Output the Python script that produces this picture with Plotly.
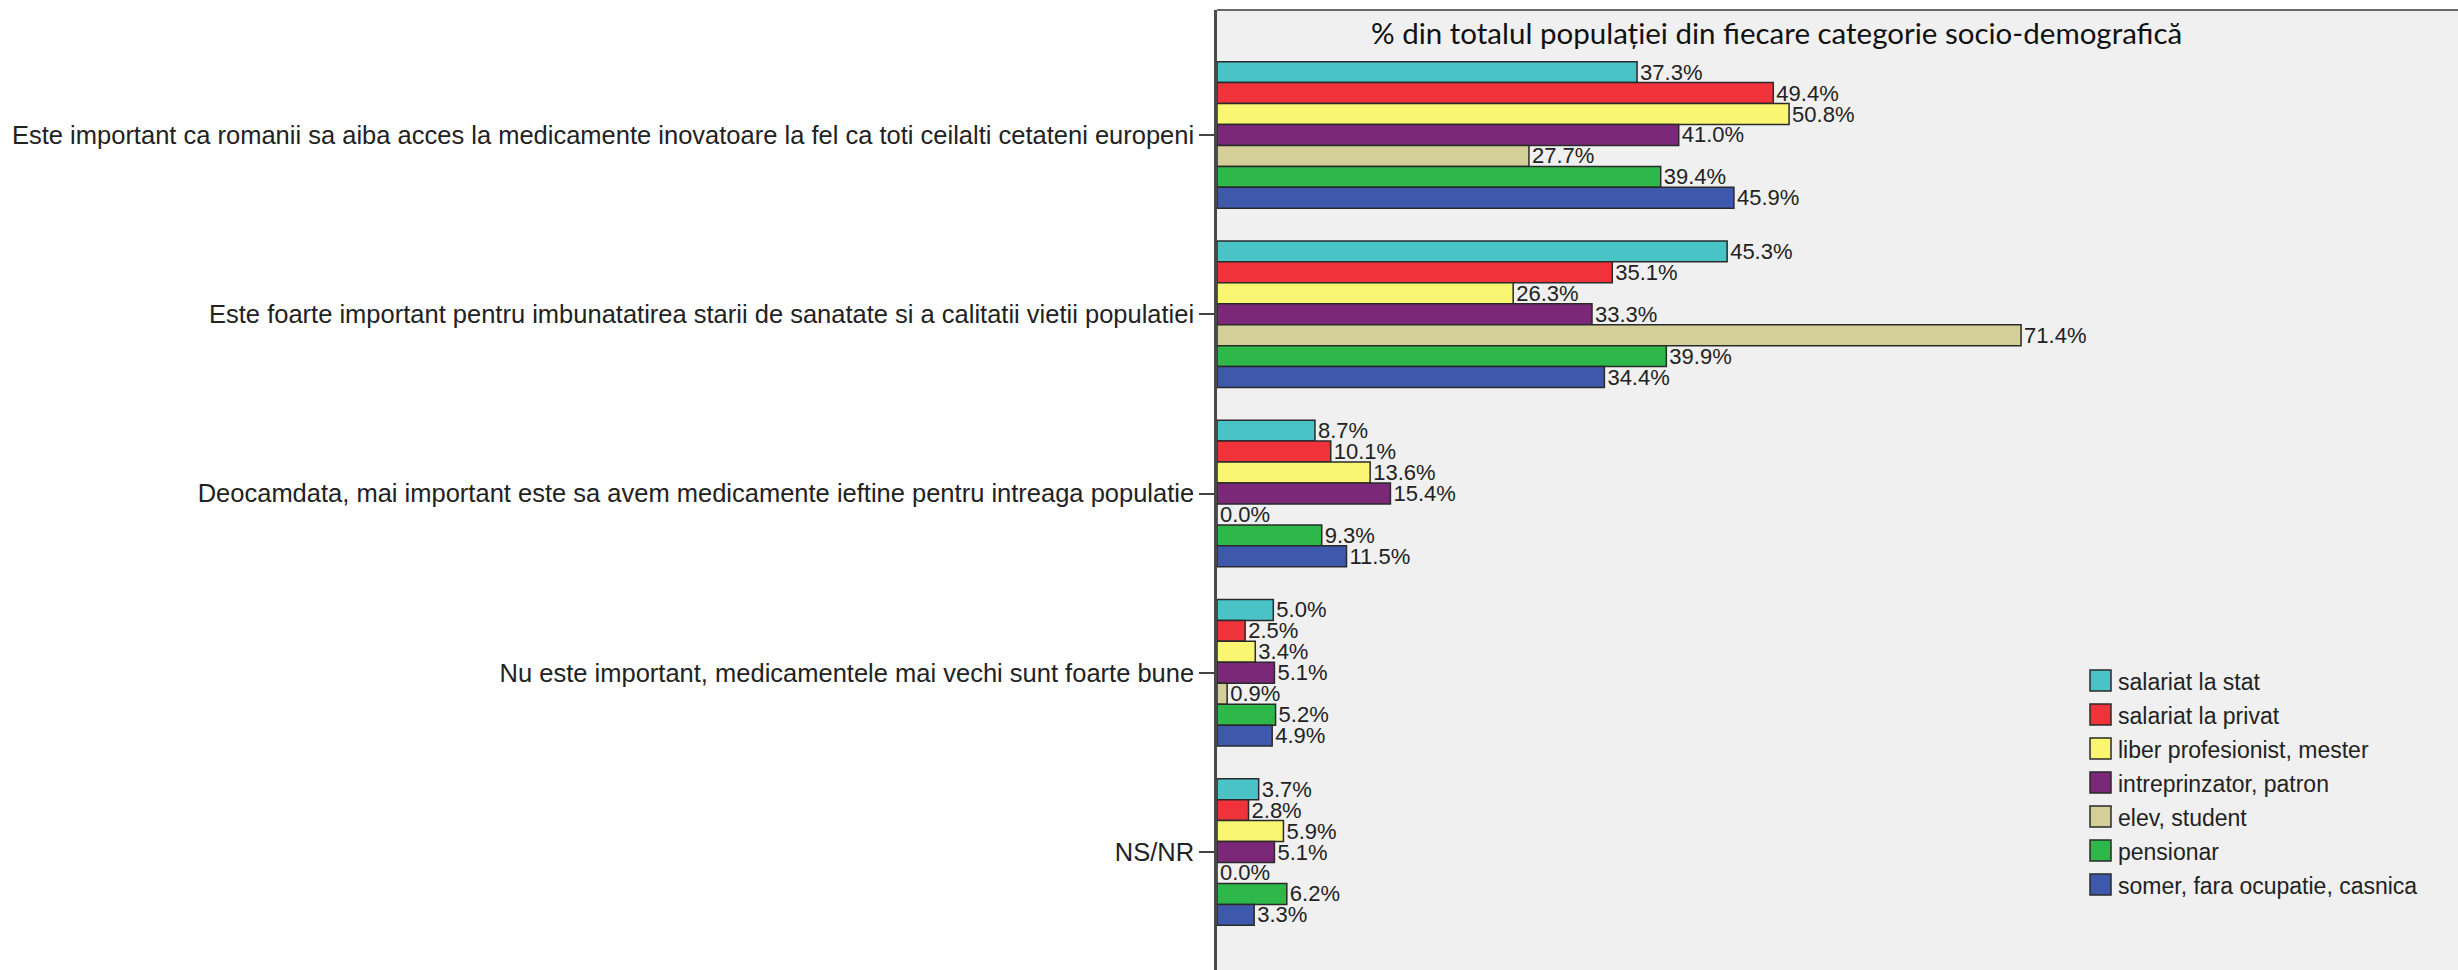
import plotly.graph_objects as go

categories = [
    "Este important ca romanii sa aiba acces la medicamente inovatoare la fel ca toti ceilalti cetateni europeni",
    "Este foarte important pentru imbunatatirea starii de sanatate si a calitatii vietii populatiei",
    "Deocamdata, mai important este sa avem medicamente ieftine pentru intreaga populatie",
    "Nu este important, medicamentele mai vechi sunt foarte bune",
    "NS/NR",
]
series_names = [
    "salariat la stat",
    "salariat la privat",
    "liber profesionist, mester",
    "intreprinzator, patron",
    "elev, student",
    "pensionar",
    "somer, fara ocupatie, casnica",
]
salariat_stat = [37.3, 45.3, 8.7, 5.0, 3.7]
salariat_privat = [49.4, 35.1, 10.1, 2.5, 2.8]
liber_profesionist = [50.8, 26.3, 13.6, 3.4, 5.9]
intreprinzator = [41.0, 33.3, 15.4, 5.1, 5.1]
elev_student = [27.7, 71.4, 0.0, 0.9, 0.0]
pensionar = [39.4, 39.9, 9.3, 5.2, 6.2]
somer = [45.9, 34.4, 11.5, 4.9, 3.3]
series_values = [salariat_stat, salariat_privat, liber_profesionist,
                 intreprinzator, elev_student, pensionar, somer]
colors = ["#4AC3C7", "#F0323A", "#FAF672", "#7A2877", "#D4CF99", "#2EB84A", "#3E58AC"]

title_text = "% din totalul populației din fiecare categorie socio-demografică"

W, H = 2458, 970
L, T = 1217, 10
PW, PH = W - L, H - T

fig = go.Figure()
for name, vals, col in zip(series_names, series_values, colors):
    fig.add_trace(go.Bar(
        y=categories, x=vals, orientation="h", name=name,
        marker=dict(color=col, line=dict(color="#2a2a2a", width=1.5)),
        text=[f"{v:.1f}%" for v in vals], textposition="outside",
        textfont=dict(family="Liberation Sans, Arial", size=22, color="#222"),
        constraintext="none", cliponaxis=False, showlegend=False,
    ))

def px_x(x):
    return (x - L) / PW

def px_y(y):
    return (H - y) / PH

shapes = [dict(type="line", xref="paper", yref="paper", x0=0, x1=1, y0=1, y1=1,
               line=dict(color="#6a6a6a", width=2))]
annotations = [dict(text=title_text, xref="paper", yref="paper",
                    x=px_x(1776), y=px_y(33), xanchor="center", yanchor="middle",
                    showarrow=False, font=dict(family="Lato, Open Sans", size=29.5, color="#111"))]

leg_x, leg_y0, leg_dy, sw = 2090, 680.5, 34.0, 21
for i, (name, col) in enumerate(zip(series_names, colors)):
    cy = leg_y0 + i * leg_dy
    shapes.append(dict(type="rect", xref="paper", yref="paper",
                       x0=px_x(leg_x), x1=px_x(leg_x + sw),
                       y0=px_y(cy + sw / 2), y1=px_y(cy - sw / 2),
                       fillcolor=col, line=dict(color="#2a2a2a", width=1.5)))
    annotations.append(dict(text=name, xref="paper", yref="paper",
                            x=px_x(leg_x + sw + 5), y=px_y(cy + 1), xanchor="left", yanchor="middle",
                            showarrow=False,
                            font=dict(family="Liberation Sans, Arial", size=23, color="#222")))

fig.update_layout(
    width=W, height=H,
    margin=dict(l=L, r=0, t=T, b=0, pad=0),
    paper_bgcolor="white", plot_bgcolor="#F0F0F0",
    barmode="group", bargap=0.182, bargroupgap=0,
    showlegend=False,
    xaxis=dict(range=[0, 110.2], visible=False, showgrid=False, zeroline=False, automargin=False),
    yaxis=dict(range=[4.658, -0.697], showline=True, linecolor="#4a4a4a", linewidth=2.5,
               ticks="outside", ticklen=15, tickwidth=2, tickcolor="#444",
               tickfont=dict(family="Liberation Sans, Arial", size=25.5, color="#222"),
               showgrid=False, zeroline=False, automargin=False),
    shapes=shapes, annotations=annotations,
)

fig.write_html("out.html", config={"displayModeBar": False},
               post_script="document.body.style.margin='0';document.body.style.overflow='hidden';")
